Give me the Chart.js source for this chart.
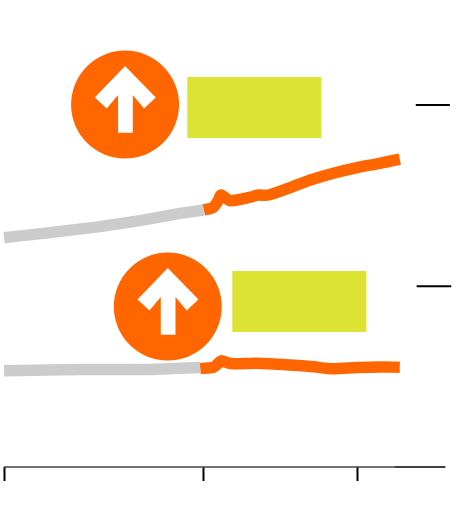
<!DOCTYPE html>
<html>
<head>
<meta charset="utf-8">
<style>
  html, body { margin: 0; padding: 0; background: #fff; }
  #grafico { display: block; }
</style>
<script src="https://cdn.jsdelivr.net/npm/chart.js@4"></script>
</head>
<body>
<div style="width:460px;height:524px"><canvas id="grafico"></canvas></div>
<script>
// === DATOS ===
const tickYears = [2000, 2013, 2023];

const upperPastYears = [2000, 2003, 2006.25, 2008.85, 2011.46, 2013];
const upperPastValues = [57.35, 58.6, 60.1, 61.6, 63.4, 64.25];
const upperNowYears = [2013, 2013.6, 2013.96, 2014.12, 2014.73, 2016.03, 2016.46, 2017.22, 2018.63, 2019.94, 2021.44, 2022.98, 2024.28, 2025.76];
const upperNowValues = [64.25, 64.85, 66.75, 68, 66.55, 67.45, 67.95, 68, 69.85, 71.75, 73.45, 74.85, 75.8, 76.95];

const lowerPastYears = [2000, 2004.95, 2009.5, 2012.77];
const lowerPastValues = [24.05, 24.35, 24.4, 24.85];
const lowerNowYears = [2012.77, 2013.64, 2013.96, 2014.14, 2014.73, 2016.46, 2018.63, 2020.15, 2021.35, 2022.98, 2024.5, 2025.76];
const lowerNowValues = [24.65, 24.95, 25.95, 26.55, 25.85, 25.95, 25.5, 25.05, 24.55, 24.85, 25, 24.95];

const markUpperYears = [2026.8, 2029.02];
const markUpperValues = [90.5, 90.5];
const markLowerYears = [2026.86, 2029.11];
const markLowerValues = [45.2, 45.2];

const axisGreyYears = [2000, 2025.4];
const axisBlackYears = [2025.4, 2028.73];
const axisValues = [0, 0];

const iconYears = [2007.88, 2010.66];
const iconValues = [90.6, 40.1];

const boxYears = [2011.93, 2020.66, 2014.86, 2023.59];
const boxValues = [97.5, 82.25, 49, 33.75];

// === UTILIDADES ===
const NARANJA = "#ff6600";
const GRIS = "#cccccc";
const AMARILLO = "#dce332";

const pares = (xs, ys) => xs.map((x, i) => ({ x, y: ys[i] }));

function serie(xs, ys, color, ancho, suave) {
  return {
    data: pares(xs, ys),
    borderColor: color,
    borderWidth: ancho,
    pointRadius: 0,
    tension: suave ? 0.25 : 0,
    borderCapStyle: "butt",
    clip: false,
  };
}

// Flecha blanca relativa al centro del circulo
const flecha = [[0, -38.5], [30.7, -7.2], [19, 3.8], [7.7, -9.5], [7.7, 28.2], [-7, 28.2], [-7, -9.5], [-18.3, 3.8], [-30.3, -7.2]];

const formas = {
  id: "formas",
  afterDatasetsDraw(chart) {
    const { ctx, scales } = chart;
    ctx.save();

    // Cajas amarillas
    ctx.fillStyle = AMARILLO;
    for (let i = 0; i < boxYears.length; i += 2) {
      const x0 = scales.x.getPixelForValue(boxYears[i]);
      const x1 = scales.x.getPixelForValue(boxYears[i + 1]);
      const y0 = scales.y.getPixelForValue(boxValues[i]);
      const y1 = scales.y.getPixelForValue(boxValues[i + 1]);
      ctx.fillRect(x0, y0, x1 - x0, y1 - y0);
    }

    // Circulos con flecha
    iconYears.forEach((anio, i) => {
      const cx = scales.x.getPixelForValue(anio);
      const cy = scales.y.getPixelForValue(iconValues[i]);
      ctx.fillStyle = NARANJA;
      ctx.beginPath();
      ctx.arc(cx, cy, 54, 0, Math.PI * 2);
      ctx.fill();
      ctx.fillStyle = "#ffffff";
      ctx.beginPath();
      flecha.forEach(([dx, dy], j) => {
        if (j === 0) ctx.moveTo(cx + dx, cy + dy);
        else ctx.lineTo(cx + dx, cy + dy);
      });
      ctx.closePath();
      ctx.fill();
    });
    ctx.restore();
  },
};

// === GRAFICO ===
new Chart(document.getElementById("grafico"), {
  type: "line",
  data: {
    datasets: [
      serie(axisGreyYears, axisValues, "#444444", 1.5, false),
      serie(axisBlackYears, axisValues, "#000000", 1.5, false),
      serie(markUpperYears, markUpperValues, "#000000", 2, false),
      serie(markLowerYears, markLowerValues, "#000000", 2, false),
      serie(upperPastYears, upperPastValues, GRIS, 11.5, false),
      serie(lowerPastYears, lowerPastValues, GRIS, 11.5, false),
      serie(upperNowYears, upperNowValues, NARANJA, 11.5, true),
      serie(lowerNowYears, lowerNowValues, NARANJA, 11.5, true),
    ],
  },
  options: {
    responsive: true,
    maintainAspectRatio: false,
    animation: false,
    layout: { padding: { left: 4, right: 0, top: 0, bottom: 43 } },
    plugins: { legend: { display: false }, tooltip: { enabled: false } },
    scales: {
      x: {
        type: "linear",
        min: 2000,
        max: 2029.68,
        afterBuildTicks: (eje) => { eje.ticks = tickYears.map((value) => ({ value })); },
        ticks: { display: false },
        border: { display: false },
        grid: { drawOnChartArea: false, drawTicks: true, tickLength: 14, tickWidth: 2, tickColor: "#000000" },
      },
      y: { display: false, min: 0, max: 116.75 },
    },
  },
  plugins: [formas],
});
</script>
</body>
</html>
